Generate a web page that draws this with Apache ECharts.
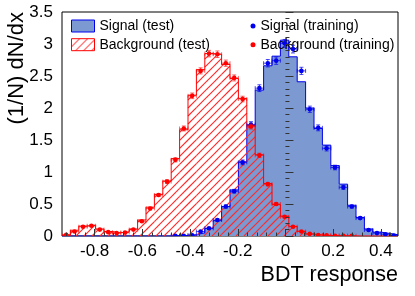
<!DOCTYPE html>
<html><head><meta charset="utf-8">
<script src="https://cdn.jsdelivr.net/npm/echarts@6/dist/echarts.min.js"></script>
<style>html,body{margin:0;padding:0;background:#fff}#c{width:415px;height:296px}</style>
</head><body><div id="c"></div>
<script>
// ---- data ----
const X_MIN = -0.937, X_MAX = 0.472, N_BINS = 40;
const X_TICKS = [-0.8, -0.6, -0.4, -0.2, 0, 0.2, 0.4];
const X_MINOR = [-0.92,-0.88,-0.84,-0.76,-0.72,-0.68,-0.64,-0.56,-0.52,-0.48,-0.44,-0.36,-0.32,-0.28,-0.24,-0.16,-0.12,-0.08,-0.04,0.04,0.08,0.12,0.16,0.24,0.28,0.32,0.36,0.44];
const Y_MIN = 0, Y_MAX = 3.5, Y_STEP = 0.5;

const SIG_TEST = [0,0,0,0,0,0,0,0,0,0,0,0,0,
  0.005,0.008,0.02,0.05,0.12,0.24,0.46,0.72,1.16,1.73,2.28,2.66,2.81,3.06,2.80,2.41,2.00,
  1.68,1.42,1.10,0.81,0.48,0.29,0.11,0.06,0.04,0.02];
const BKG_TEST = [0.016,0.09,0.155,0.17,0.11,0.07,0.05,0.065,0.11,0.25,
  0.45,0.65,0.86,1.21,1.66,2.20,2.60,2.85,2.84,2.68,
  2.46,2.15,1.73,1.27,0.82,0.49,0.31,0.15,0.075,0.03,
  0.015,0.008,0.005,0.003,0.002,0.001,0,0,0,0];
const SIG_TRAIN = [null,null,null,null,null,null,null,null,null,null,null,null,null,
  0.005,0.005,0.012,0.07,0.12,0.25,0.46,0.70,1.15,1.74,2.31,2.70,2.74,3.01,2.92,2.58,1.98,
  1.69,1.37,1.07,0.76,0.46,0.28,0.094,0.045,0.028,0.008];
const SIG_TRAIN_ERR = [null,null,null,null,null,null,null,null,null,null,null,null,null,
  0.003,0.003,0.004,0.009,0.012,0.018,0.024,0.029,0.038,0.046,0.053,0.058,0.058,0.061,0.060,0.056,0.049,
  0.046,0.041,0.036,0.031,0.024,0.019,0.011,0.007,0.006,0.003];
const BKG_TRAIN = [0.02,0.07,0.145,0.16,0.10,0.06,0.045,0.055,0.10,0.23,
  0.43,0.64,0.85,1.19,1.68,2.19,2.58,2.85,2.84,2.70,
  2.47,2.14,1.71,1.26,0.81,0.50,0.30,0.145,0.07,0.035,
  0.015,0.01,0.005,0.005,0.004,null,null,null,null,null];
const BKG_TRAIN_ERR = [0.004,0.008,0.011,0.012,0.009,0.007,0.006,0.007,0.009,0.014,
  0.020,0.024,0.028,0.033,0.039,0.044,0.048,0.051,0.051,0.049,
  0.047,0.044,0.039,0.034,0.027,0.021,0.016,0.011,0.008,0.006,
  0.004,0.003,0.002,0.002,0.002,null,null,null,null,null];

// ---- helpers ----
const BIN_W = (X_MAX - X_MIN) / N_BINS;
const binEdges = Array.from({length: N_BINS + 1}, (_, k) => X_MIN + k * BIN_W);
const binCenters = binEdges.slice(0, N_BINS).map(e => e + BIN_W / 2);
function stepData(vals) {
  const d = vals.map((v, k) => [binEdges[k], v]);
  d.push([binEdges[N_BINS], vals[N_BINS - 1]]);
  return d;
}
function binData(vals) {
  return vals.map((v, k) => [binEdges[k], binEdges[k + 1], v]);
}
function pointData(vals, errs) {
  const d = [];
  vals.forEach((v, k) => { if (v !== null) d.push([binCenters[k], v, errs[k]]); });
  return d;
}
function makeHatch() {
  const s = 8, cv = document.createElement('canvas');
  cv.width = s; cv.height = s;
  const g = cv.getContext('2d');
  g.fillStyle = '#ff0000';
  for (let i = 0; i < s; i++) g.fillRect(i, s - 1 - i, 1, 1);
  return {image: cv, repeat: 'repeat'};
}
const HATCH = makeHatch();
const HATCH_GAP = 8;
const HATCH_COLOR = 'rgb(255,40,40)';
const FONT = '"Liberation Sans", Arial, Helvetica, sans-serif';

function errRender(markCol, lineCol) {
  return function (params, api) {
    const c = api.value(0), v = api.value(1), e = api.value(2);
    const pL = api.coord([c - BIN_W / 2, v]), pR = api.coord([c + BIN_W / 2, v]);
    const pC = api.coord([c, v]), pT = api.coord([c, v + e]), pB = api.coord([c, v - e]);
    const cap = 2;
    const ls = {stroke: lineCol, lineWidth: 1};
    return {type: 'group', children: [
      {type: 'line', shape: {x1: pL[0], y1: pC[1], x2: pR[0], y2: pC[1]}, style: ls},
      {type: 'line', shape: {x1: pL[0], y1: pC[1] - cap, x2: pL[0], y2: pC[1] + cap}, style: ls},
      {type: 'line', shape: {x1: pR[0], y1: pC[1] - cap, x2: pR[0], y2: pC[1] + cap}, style: ls},
      {type: 'line', shape: {x1: pC[0], y1: pT[1], x2: pC[0], y2: pB[1]}, style: ls},
      {type: 'line', shape: {x1: pC[0] - cap, y1: pT[1], x2: pC[0] + cap, y2: pT[1]}, style: ls},
      {type: 'line', shape: {x1: pC[0] - cap, y1: pB[1], x2: pC[0] + cap, y2: pB[1]}, style: ls},
      {type: 'circle', shape: {cx: pC[0], cy: pC[1], r: 2.3}, style: {fill: markCol}}
    ]};
  };
}
// hatch one bin with "/" lines, drawn as one polyline-free path of segments
function hatchRender(params, api) {
  const l = api.value(0), r = api.value(1), v = api.value(2);
  if (!(v > 0)) return null;
  const p1 = api.coord([l, v]), p2 = api.coord([r, 0]);
  const x0 = p1[0], x1 = p2[0], y0 = p1[1], y1 = p2[1];
  const children = [];
  const cStart = Math.ceil((x0 + y0) / HATCH_GAP) * HATCH_GAP;
  for (let c = cStart; c <= x1 + y1; c += HATCH_GAP) {
    const lo = Math.max(x0, c - y1), hi = Math.min(x1, c - y0);
    if (hi > lo) {
      children.push({type: 'line', shape: {x1: lo, y1: c - lo, x2: hi, y2: c - hi},
        style: {stroke: HATCH_COLOR, lineWidth: 1.1, opacity: 1}});
    }
  }
  return {type: 'group', children};
}

const chart = echarts.init(document.getElementById('c'), null, {renderer: 'canvas'});
chart.setOption({
  animation: false,
  backgroundColor: '#fff',
  grid: {left: 62, right: 17, top: 12, bottom: 60, show: true, borderColor: '#000', borderWidth: 1, backgroundColor: 'transparent'},
  xAxis: [{
    type: 'value', min: X_MIN, max: X_MAX, z: 10,
    axisLine: {show: false},
    splitLine: {show: false},
    axisTick: {show: true, inside: true, length: 7, customValues: X_TICKS, lineStyle: {color: '#333'}},
    axisLabel: {customValues: X_TICKS, fontSize: 17, fontFamily: FONT, color: '#000', margin: 7,
      formatter: v => String(Math.round(v * 10) / 10)}
  }, {
    type: 'value', min: X_MIN, max: X_MAX, position: 'bottom', z: 10,
    axisLine: {show: false}, splitLine: {show: false}, axisLabel: {show: false},
    axisTick: {show: true, inside: true, length: 3.5, customValues: X_MINOR, lineStyle: {color: '#333'}}
  }],
  yAxis: {
    type: 'value', min: Y_MIN, max: Y_MAX, interval: Y_STEP, z: 10,
    axisLine: {show: false},
    splitLine: {show: false},
    axisTick: {show: true, inside: true, length: 8, lineStyle: {color: '#333'}},
    minorTick: {show: true, splitNumber: 5, length: 4, lineStyle: {color: '#333'}},
    axisLabel: {fontSize: 17, fontFamily: FONT, color: '#000', margin: 9}
  },
  legend: [{
    left: 66, top: 14, orient: 'vertical', itemWidth: 23, itemHeight: 12, itemGap: 4.7,
    icon: 'rect', selectedMode: false,
    textStyle: {fontSize: 14, fontFamily: FONT, color: '#000', lineHeight: 12},
    data: [
      {name: 'Signal (test)', itemStyle: {color: '#7d99d1', borderColor: '#0000ee', borderWidth: 1}},
      {name: 'Background (test)', itemStyle: {color: HATCH, borderColor: '#ff0000', borderWidth: 1}}
    ]
  }, {
    left: 245.5, top: 14, orient: 'vertical', itemWidth: 5, itemHeight: 5, itemGap: 4.7,
    icon: 'circle', selectedMode: false,
    textStyle: {fontSize: 14, fontFamily: FONT, color: '#000', lineHeight: 12},
    data: [
      {name: 'Signal (training)', itemStyle: {color: '#0000ee', borderWidth: 0}},
      {name: 'Background (training)', itemStyle: {color: '#ff0000', borderWidth: 0}}
    ]
  }],
  graphic: [
    {type: 'text', x: 398, y: 275, z: 100,
     style: {text: 'BDT response', align: 'right', verticalAlign: 'middle', fontSize: 21.5, fontFamily: FONT, fill: '#000'}},
    {type: 'text', x: 17, y: 12, rotation: Math.PI / 2, z: 100,
     style: {text: '(1/N) dN/dx', align: 'right', verticalAlign: 'middle', fontSize: 22, fontFamily: FONT, fill: '#000'}}
  ],
  series: [{
    name: 'Signal (test)', type: 'line', step: 'end', symbol: 'none', z: 2, clip: true,
    data: stepData(SIG_TEST),
    itemStyle: {color: '#0000ee'},
    lineStyle: {color: '#0000ee', width: 1},
    areaStyle: {color: '#7d99d1', opacity: 1}
  }, {
    name: 'bkgHatch', type: 'custom', z: 3, clip: true, silent: true,
    itemStyle: {color: HATCH_COLOR},
    encode: {x: [0, 1], y: 2},
    data: binData(BKG_TEST),
    renderItem: hatchRender
  }, {
    name: 'Background (test)', type: 'line', step: 'end', symbol: 'none', z: 3.5, clip: true,
    data: stepData(BKG_TEST),
    itemStyle: {color: '#ff0000'},
    lineStyle: {color: '#ff0000', width: 1}
  }, {
    name: 'Signal (training)', type: 'custom', z: 4, clip: true,
    itemStyle: {color: '#0000ee'},
    encode: {x: 0, y: 1},
    data: pointData(SIG_TRAIN, SIG_TRAIN_ERR),
    renderItem: errRender('#0000ee', 'rgba(0,0,238,0.7)')
  }, {
    name: 'Background (training)', type: 'custom', z: 5, clip: true,
    itemStyle: {color: '#ff0000'},
    encode: {x: 0, y: 1},
    data: pointData(BKG_TRAIN, BKG_TRAIN_ERR),
    renderItem: errRender('#ff0000', 'rgba(255,0,0,0.6)')
  }]
});
</script></body></html>
